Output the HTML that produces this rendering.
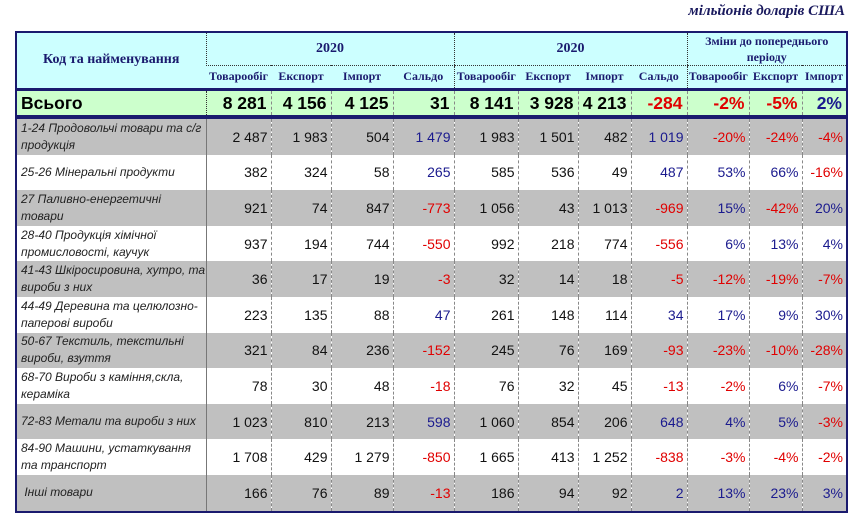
<!DOCTYPE html>
<html><head><meta charset="utf-8"><style>
body{margin:0;width:857px;height:518px;background:#fff;position:relative;overflow:hidden;font-family:"Liberation Sans",Arial,sans-serif}
.cap{position:absolute;right:12px;top:3px;font:italic bold 15px "Liberation Serif",serif;color:#1a1a5e}
table{position:absolute;left:15px;border-collapse:collapse;table-layout:fixed}
td{padding:0 4px;overflow:hidden;white-space:nowrap}
#h{top:31px;border:2px solid #1a1a6e;background:#ccffff;font:bold 12px "Liberation Serif",serif;color:#1a1a6e}
#h td{text-align:center;border-left:1px dotted #333;padding:0}
#h .y{border-bottom:1px dotted #333}
#t{top:89px;border:2px solid #1a1a6e;background:#ccffcc;font-weight:bold;font-size:17.5px}
#t td{text-align:right;border-left:1px dashed #888;height:24px}
#b{top:117px;border:2px solid #1a1a6e;font-size:14px;color:#111}
#b td{text-align:right;border-left:1px dashed #888;height:35.6px;padding:0 3px 0 0}
#b td.l{text-align:left;font-style:italic;font-size:12px;white-space:normal;line-height:17px;padding:0 0 0 4px;border-left:none;border-right:1px solid #777;color:#222}
#b tr:nth-child(odd){background:#c0c0c0}
.n{color:#1a1a8e}.r{color:#e00000}
</style></head><body>
<div class="cap">мільйонів доларів США</div>
<table id="h">
<colgroup><col style="width:190px"><col style="width:65px"><col style="width:60px"><col style="width:62px"><col style="width:61px"><col style="width:64px"><col style="width:60px"><col style="width:53px"><col style="width:56px"><col style="width:62px"><col style="width:53px"><col style="width:45px"></colgroup>
<tr style="height:32px"><td rowspan="2" style="border-left:none;font-size:14px">Код та найменування</td><td colspan="4" class="y" style="font-size:14px">2020</td><td colspan="4" class="y" style="font-size:14px">2020</td><td colspan="3" class="y" style="line-height:16px">Зміни до попереднього<br>періоду</td></tr>
<tr style="height:23px"><td style="border-left:none">Товарообіг</td><td style="border-left:none">Експорт</td><td style="border-left:none">Імпорт</td><td style="border-left:none">Сальдо</td><td>Товарообіг</td><td style="border-left:none">Експорт</td><td style="border-left:none">Імпорт</td><td style="border-left:none">Сальдо</td><td>Товарообіг</td><td style="border-left:none">Експорт</td><td style="border-left:none">Імпорт</td></tr>
</table>
<table id="t">
<colgroup><col style="width:190px"><col style="width:65px"><col style="width:60px"><col style="width:62px"><col style="width:61px"><col style="width:64px"><col style="width:60px"><col style="width:53px"><col style="width:56px"><col style="width:62px"><col style="width:53px"><col style="width:45px"></colgroup>
<tr><td style="text-align:left;border-left:none;border-right:1px dotted #333">Всього</td><td style="border-left:none">8 281</td><td>4 156</td><td>4 125</td><td>31</td><td>8 141</td><td>3 928</td><td>4 213</td><td class="r">-284</td><td class="r">-2%</td><td class="r">-5%</td><td class="n">2%</td></tr>
</table>
<table id="b">
<colgroup><col style="width:190px"><col style="width:65px"><col style="width:60px"><col style="width:62px"><col style="width:61px"><col style="width:64px"><col style="width:60px"><col style="width:53px"><col style="width:56px"><col style="width:62px"><col style="width:53px"><col style="width:45px"></colgroup>
<tr><td class="l">1-24 Продовольчі товари та с/г продукція</td><td style="border-left:none">2 487</td><td>1 983</td><td>504</td><td class="n">1 479</td><td>1 983</td><td>1 501</td><td>482</td><td class="n">1 019</td><td class="r">-20%</td><td class="r">-24%</td><td class="r">-4%</td></tr>
<tr><td class="l">25-26 Мінеральні продукти</td><td style="border-left:none">382</td><td>324</td><td>58</td><td class="n">265</td><td>585</td><td>536</td><td>49</td><td class="n">487</td><td class="n">53%</td><td class="n">66%</td><td class="r">-16%</td></tr>
<tr><td class="l">27 Паливно-енергетичні товари</td><td style="border-left:none">921</td><td>74</td><td>847</td><td class="r">-773</td><td>1 056</td><td>43</td><td>1 013</td><td class="r">-969</td><td class="n">15%</td><td class="r">-42%</td><td class="n">20%</td></tr>
<tr><td class="l">28-40 Продукція хімічної промисловості, каучук</td><td style="border-left:none">937</td><td>194</td><td>744</td><td class="r">-550</td><td>992</td><td>218</td><td>774</td><td class="r">-556</td><td class="n">6%</td><td class="n">13%</td><td class="n">4%</td></tr>
<tr><td class="l">41-43 Шкіросировина, хутро, та вироби з них</td><td style="border-left:none">36</td><td>17</td><td>19</td><td class="r">-3</td><td>32</td><td>14</td><td>18</td><td class="r">-5</td><td class="r">-12%</td><td class="r">-19%</td><td class="r">-7%</td></tr>
<tr><td class="l">44-49 Деревина та целюлозно-паперові вироби</td><td style="border-left:none">223</td><td>135</td><td>88</td><td class="n">47</td><td>261</td><td>148</td><td>114</td><td class="n">34</td><td class="n">17%</td><td class="n">9%</td><td class="n">30%</td></tr>
<tr><td class="l">50-67 Текстиль, текстильні вироби, взуття</td><td style="border-left:none">321</td><td>84</td><td>236</td><td class="r">-152</td><td>245</td><td>76</td><td>169</td><td class="r">-93</td><td class="r">-23%</td><td class="r">-10%</td><td class="r">-28%</td></tr>
<tr><td class="l">68-70 Вироби з каміння,скла, кераміка</td><td style="border-left:none">78</td><td>30</td><td>48</td><td class="r">-18</td><td>76</td><td>32</td><td>45</td><td class="r">-13</td><td class="r">-2%</td><td class="n">6%</td><td class="r">-7%</td></tr>
<tr><td class="l">72-83 Метали та вироби з них</td><td style="border-left:none">1 023</td><td>810</td><td>213</td><td class="n">598</td><td>1 060</td><td>854</td><td>206</td><td class="n">648</td><td class="n">4%</td><td class="n">5%</td><td class="r">-3%</td></tr>
<tr><td class="l">84-90 Машини, устаткування та транспорт</td><td style="border-left:none">1 708</td><td>429</td><td>1 279</td><td class="r">-850</td><td>1 665</td><td>413</td><td>1 252</td><td class="r">-838</td><td class="r">-3%</td><td class="r">-4%</td><td class="r">-2%</td></tr>
<tr><td class="l">&nbsp;Інші товари</td><td style="border-left:none">166</td><td>76</td><td>89</td><td class="r">-13</td><td>186</td><td>94</td><td>92</td><td class="n">2</td><td class="n">13%</td><td class="n">23%</td><td class="n">3%</td></tr>
</table>
</body></html>
